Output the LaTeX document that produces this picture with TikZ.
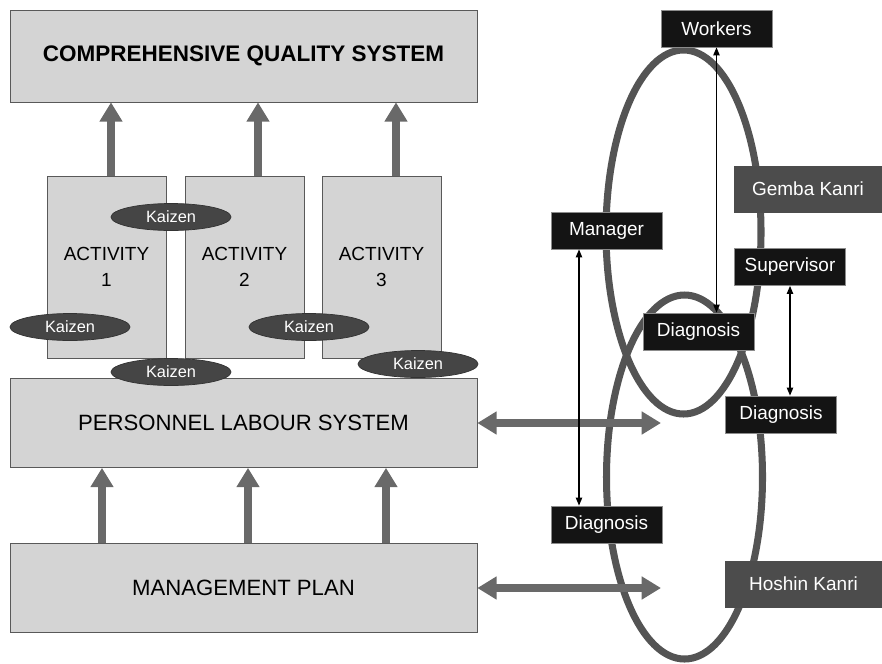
\documentclass[tikz,border=0pt]{standalone}
\usepackage{fontspec}
\setmainfont{Liberation Sans}
\usetikzlibrary{arrows.meta,shapes.geometric}
\definecolor{BoxClr}{gray}{0.83}
\definecolor{EdgeClr}{gray}{0.35}
\definecolor{ArrowClr}{gray}{0.41}
\definecolor{LoopClr}{gray}{0.33}
\definecolor{KaizenClr}{gray}{0.27}
\definecolor{TagClr}{gray}{0.08}
\definecolor{TagEdge}{gray}{0.55}
\definecolor{KanriClr}{gray}{0.3}

\begin{document}
\begin{tikzpicture}[x=0.02cm,y=-0.02cm,
  sysbox/.style={draw=EdgeClr,fill=BoxClr,inner sep=0pt,minimum width=9.34cm,minimum height=1.78cm,
    font=\fontsize{12.6}{15}\selectfont},
  actbox/.style={draw=EdgeClr,fill=BoxClr,inner sep=0pt,minimum width=2.38cm,minimum height=3.64cm,
    align=center,font=\fontsize{10.8}{14.7}\selectfont},
  kaizen/.style={ellipse,draw=black!80,fill=KaizenClr,text=white,inner sep=0pt,
    minimum width=2.4cm,minimum height=0.54cm,font=\fontsize{9.3}{11}\selectfont},
  tag/.style={draw=TagEdge,fill=TagClr,text=white,inner sep=0pt,minimum width=2.22cm,
    minimum height=0.74cm,font=\fontsize{10.8}{13}\selectfont},
  kanri/.style={tag,fill=KanriClr,draw=black!70,minimum height=0.92cm},
  loop/.style={draw=LoopClr,line width=4pt},
  bigarrow/.style={draw=ArrowClr,line width=4pt,-{Triangle[width=12.5pt,length=11pt]}},
  twoway/.style={draw=ArrowClr,line width=4pt,{Triangle[width=12.5pt,length=11pt]}-{Triangle[width=12.5pt,length=11pt]}},
  thin/.style={draw=black,line width=0.8pt,{Triangle[width=3.6pt,length=4.6pt]}-{Triangle[width=3.6pt,length=4.6pt]}}]

\useasboundingbox (0,0) rectangle (882,663);

% The two loops on the right
\draw[loop] (683.5,232) ellipse [x radius=77.5, y radius=182];
\draw[loop] (684.5,477) ellipse [x radius=78, y radius=182];

% Left column
\node[sysbox,minimum height=1.84cm,font=\bfseries\fontsize{12.8}{15}\selectfont] (cqs) at (243.5,56) {COMPREHENSIVE QUALITY SYSTEM};
\node[actbox] (act1) at (106.5,267) {ACTIVITY\\1};
\node[actbox] (act2) at (244.5,267) {ACTIVITY\\2};
\node[actbox] (act3) at (381.5,267) {ACTIVITY\\3};
\node[sysbox] (pls) at (243.5,423) {PERSONNEL LABOUR SYSTEM};
\node[sysbox] (mp) at (243.5,588) {MANAGEMENT PLAN};

\foreach \x/\a in {111/act1,258/act2,396/act3}
  \draw[bigarrow] (\x,0 |- \a.north) -- (\x,0 |- cqs.south);
\foreach \x in {102,248,386}
  \draw[bigarrow] (\x,0 |- mp.north) -- (\x,0 |- pls.south);

% Kaizen around the activities
\node[kaizen] (kz1) at (171,217) {Kaizen};
\node[kaizen] (kz2) at (70,327) {Kaizen};
\node[kaizen] (kz3) at (309,327) {Kaizen};
\node[kaizen] (kz4) at (171,372) {Kaizen};
\node[kaizen] (kz5) at (418,364) {Kaizen};

% Links into the loops
\coordinate (plsEnd) at (661,423);
\coordinate (mpEnd) at (661,588);
\draw[twoway] (pls.east) -- (plsEnd);
\draw[twoway] (mp.east) -- (mpEnd);

% Tags on the loops
\node[tag] (workers) at (716.5,28.5) {Workers};
\node[kanri,minimum width=2.96cm] (gemba) at (808,189) {Gemba Kanri};
\node[tag] (manager) at (606.5,230.5) {Manager};
\node[tag] (supervisor) at (790,267) {Supervisor};
\node[tag] (diagTop) at (698.5,331.5) {Diagnosis};
\node[tag] (diagRight) at (781,414.5) {Diagnosis};
\node[tag] (diagLeft) at (606.5,524.5) {Diagnosis};
\node[kanri,minimum width=3.14cm] (hoshin) at (803.5,584) {Hoshin Kanri};

\draw[thin] (workers.south) -- (workers.south |- diagTop.north);
\draw[thin] ([xshift=-0.55cm]manager.south) -- ([xshift=-0.55cm]diagLeft.north);
\draw[thin] (supervisor.south) -- (supervisor.south |- diagRight.north);

\end{tikzpicture}
\end{document}
